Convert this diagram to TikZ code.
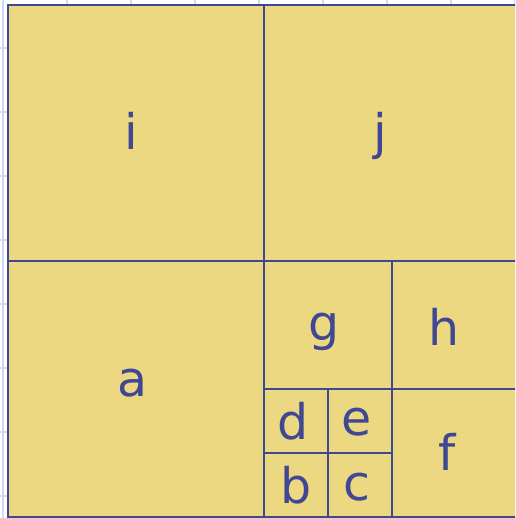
\documentclass[tikz,border=0pt]{standalone}
\usepackage{fontspec}
\setmainfont{DejaVu Sans}
\definecolor{gridblue}{RGB}{206,218,250}
\definecolor{cellfill}{RGB}{236,216,128}
\definecolor{edgeblue}{RGB}{64,72,148}
\begin{document}
\begin{tikzpicture}[x=1pt,y=-1pt,
  gridline/.style={draw=gridblue,line width=2pt},
  cellline/.style={draw=edgeblue,line width=1.6pt},
  lbl/.style={text=edgeblue,font=\fontsize{49}{52}\selectfont,anchor=base,inner sep=0pt}]
\useasboundingbox (0,0) rectangle (515,518);
\clip (0,0) rectangle (515,518);
\fill[white] (0,0) rectangle (515,518);
\foreach \gx in {3,67,...,515} \draw[gridline] (\gx,0) -- (\gx,518);
\foreach \gy in {48,112,...,496} \draw[gridline] (0,\gy) -- (515,\gy);
\fill[cellfill] (8,5) rectangle (520,517);
\draw[cellline,line width=2pt] (8,5) rectangle (520,517);
\draw[cellline] (264,5) -- (264,517);
\draw[cellline] (8,261) -- (520,261);
\draw[cellline] (392,261) -- (392,517);
\draw[cellline] (264,389) -- (520,389);
\draw[cellline] (328,389) -- (328,517);
\draw[cellline] (264,453) -- (392,453);
\node[lbl] (ti) at (131,150) {i};
\node[lbl] (tj) at (380,150) {j};
\node[lbl] (ta) at (133,396) {a};
\node[lbl] (tg) at (324,340) {g};
\node[lbl] (th) at (444,345) {h};
\node[lbl] (tf) at (447,470) {f};
\node[lbl] (td) at (293,439) {d};
\node[lbl] (te) at (357,435) {e};
\node[lbl] (tb) at (296,503) {b};
\node[lbl] (tc) at (357,500) {c};
\end{tikzpicture}
\end{document}
